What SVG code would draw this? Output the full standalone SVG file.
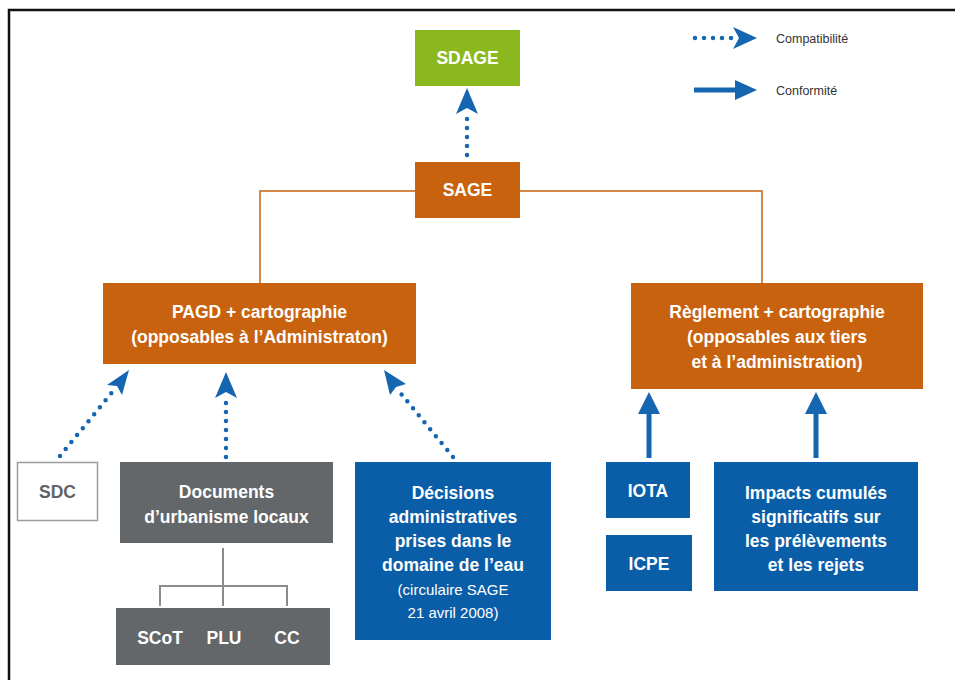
<svg xmlns="http://www.w3.org/2000/svg" width="955" height="680" viewBox="0 0 955 680">
<defs>
<style>
.t{font-family:"Liberation Sans","DejaVu Sans",sans-serif;font-weight:bold;fill:#fff;text-anchor:middle;font-size:17.5px}
.tg{font-family:"Liberation Sans","DejaVu Sans",sans-serif;font-weight:bold;fill:#5f6366;text-anchor:middle;font-size:17.5px}
.lg{font-family:"Liberation Sans","DejaVu Sans",sans-serif;fill:#333;font-size:12.5px}
.sm{font-weight:normal;font-size:15px}
.orange{fill:#c8620e}
.blue{fill:#0a5ea8}
.grey{fill:#636769}
.dot{stroke:#1565b0;stroke-width:4.5;stroke-linecap:round;stroke-dasharray:0 9;fill:none}
.sol{stroke:#1565b0;stroke-width:5;fill:none}
.ol{stroke:#c8620e;stroke-width:1.5;fill:none}
.gl{stroke:#8a8d90;stroke-width:2;fill:none}
.ah{fill:#1565b0}
</style>
</defs>
<rect width="955" height="680" fill="#fff"/>
<path d="M9,690 V10 H960" fill="none" stroke="#111" stroke-width="2.5"/>

<g id="connectors">
<path class="ol" d="M415,191 H260 V283"/>
<path class="ol" d="M520,191 H762 V283"/>
<path class="gl" d="M223,548 V606 M160,606 V586 H287 V606"/>
<path class="dot" d="M467,155 V110"/>
<path class="ah" d="M456,114 L467,88 L478,114 L467,108 Z"/>
<path class="dot" d="M60,456 L114,390"/>
<path class="ah" d="M107,385 L129,370 L122,395 L117,386 Z"/>
<path class="dot" d="M226,457 V394"/>
<path class="ah" d="M215,398 L226,372 L237,398 L226,392 Z"/>
<path class="dot" d="M453,457 L398,390"/>
<path class="ah" d="M390,395 L384,370 L406,384 L396,387 Z"/>
<path class="sol" d="M649,458 V410"/>
<path class="ah" d="M638,414 L649,392 L660,414 Z"/>
<path class="sol" d="M816,458 V410"/>
<path class="ah" d="M805,414 L816,392 L827,414 Z"/>
</g>

<g id="legend">
<path class="dot" d="M695,38 H733"/>
<path class="ah" d="M733,27 L757,38 L733,49 L739,38 Z"/>
<text class="lg" x="776" y="43">Compatibilité</text>
<path class="sol" d="M694,90 H740"/>
<path class="ah" d="M735,80 L757,90 L735,100 Z"/>
<text class="lg" x="776" y="95">Conformité</text>
</g>

<g id="sdage">
<rect x="415" y="30" width="105" height="56" fill="#8ab81e"/>
<text class="t" x="467.5" y="64" font-size="18">SDAGE</text>
</g>
<g id="sage">
<rect class="orange" x="415" y="162" width="105" height="56"/>
<text class="t" x="467.5" y="196" font-size="18">SAGE</text>
</g>
<g id="pagd">
<rect class="orange" x="103" y="283" width="313" height="81"/>
<text class="t" x="259.5" y="318">PAGD + cartographie</text>
<text class="t" x="259.5" y="343">(opposables à l’Administraton)</text>
</g>
<g id="reglement">
<rect class="orange" x="631" y="283" width="292" height="106"/>
<text class="t" x="777" y="318">Règlement + cartographie</text>
<text class="t" x="777" y="343">(opposables aux tiers</text>
<text class="t" x="777" y="368">et à l’administration)</text>
</g>
<g id="sdc">
<rect x="17.5" y="462.5" width="80" height="58" fill="#fff" stroke="#9a9da0" stroke-width="1.5"/>
<text class="tg" x="57.5" y="498">SDC</text>
</g>
<g id="documents">
<rect class="grey" x="120" y="462" width="213" height="81"/>
<text class="t" x="226.5" y="498">Documents</text>
<text class="t" x="226.5" y="523">d’urbanisme locaux</text>
</g>
<g id="scot">
<rect class="grey" x="116" y="608" width="214" height="57"/>
<text class="t" x="160" y="644">SCoT</text>
<text class="t" x="224" y="644">PLU</text>
<text class="t" x="287" y="644">CC</text>
</g>
<g id="decisions">
<rect class="blue" x="355" y="462" width="196" height="178"/>
<text class="t" x="453" y="499">Décisions</text>
<text class="t" x="453" y="523">administratives</text>
<text class="t" x="453" y="547">prises dans le</text>
<text class="t" x="453" y="571">domaine de l’eau</text>
<text class="t sm" x="453" y="595">(circulaire SAGE</text>
<text class="t sm" x="453" y="618">21 avril 2008)</text>
</g>
<g id="iota">
<rect class="blue" x="606" y="462" width="84" height="56"/>
<text class="t" x="648" y="497">IOTA</text>
</g>
<g id="icpe">
<rect class="blue" x="606" y="535" width="86" height="56"/>
<text class="t" x="649" y="570">ICPE</text>
</g>
<g id="impacts">
<rect class="blue" x="714" y="462" width="204" height="129"/>
<text class="t" x="816" y="499">Impacts cumulés</text>
<text class="t" x="816" y="523">significatifs sur</text>
<text class="t" x="816" y="547">les prélèvements</text>
<text class="t" x="816" y="571">et les rejets</text>
</g>
</svg>
